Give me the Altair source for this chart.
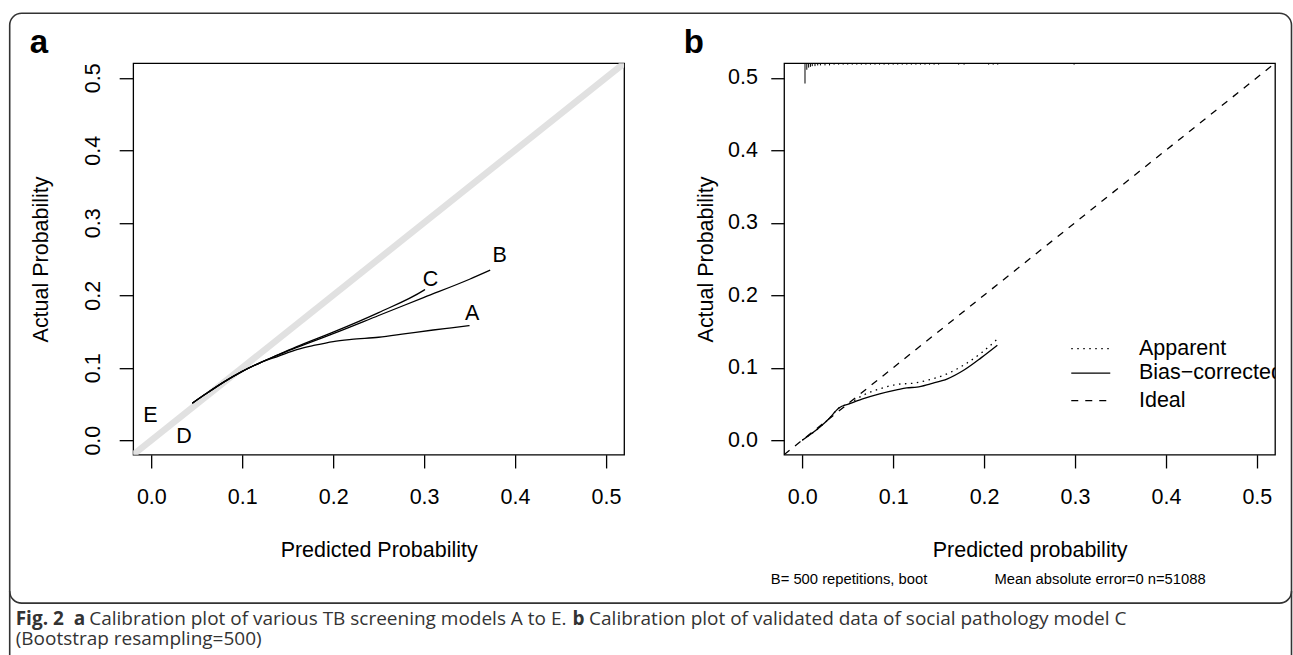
import altair as alt
import pandas as pd

FONT = "Liberation Sans"
CAPFONT = "Open Sans"

# ---------------- data ----------------
tick_vals = [0.0, 0.1, 0.2, 0.3, 0.4, 0.5]
domain = [-0.02, 0.52]

# Panel a: calibration curves of models A, B, C
a_x = [0.045, 0.06, 0.08, 0.10, 0.12, 0.14, 0.16, 0.18, 0.20, 0.22, 0.25, 0.28, 0.31, 0.33, 0.35]
a_y = [0.051, 0.064, 0.0805, 0.095, 0.107, 0.116, 0.125, 0.131, 0.136, 0.139, 0.142, 0.147, 0.152, 0.155, 0.158]
b_x = [0.045, 0.06, 0.08, 0.10, 0.12, 0.14, 0.16, 0.20, 0.25, 0.30, 0.35, 0.3727]
b_y = [0.051, 0.064, 0.0805, 0.095, 0.107, 0.118, 0.128, 0.147, 0.172, 0.197, 0.222, 0.2345]
c_x = [0.045, 0.06, 0.08, 0.10, 0.12, 0.14, 0.16, 0.20, 0.25, 0.30, 0.301]
c_y = [0.051, 0.064, 0.0805, 0.095, 0.107, 0.118, 0.129, 0.149, 0.176, 0.207, 0.2078]
ideal_pts = [-0.02, 0.52]

label_text = ["A", "B", "C", "D", "E"]
label_x = [0.353, 0.383, 0.307, 0.036, -0.001]
label_y = [0.174, 0.254, 0.221, 0.005, 0.033]

# Panel b: bootstrap calibration of model C
app_x = [0.0, 0.0198, 0.0291, 0.0403, 0.0515, 0.0664, 0.0851, 0.1037, 0.1224, 0.141, 0.1597, 0.1784, 0.197, 0.2146]
app_y = [0.0, 0.0185, 0.0292, 0.0444, 0.0505, 0.0616, 0.0708, 0.0769, 0.0787, 0.0838, 0.0917, 0.1042, 0.1204, 0.1394]
bc_x = [0.0, 0.0198, 0.0291, 0.0403, 0.0515, 0.0664, 0.0851, 0.1037, 0.1149, 0.1261, 0.141, 0.1597, 0.1784, 0.197, 0.2146]
bc_y = [0.0, 0.0185, 0.0292, 0.0444, 0.0500, 0.0569, 0.0639, 0.0694, 0.0722, 0.0731, 0.0778, 0.0847, 0.0972, 0.1139, 0.1310]

# distribution rug of predicted probabilities (top of panel b)
rug_x = [0.003, 0.005, 0.007, 0.009, 0.011, 0.014, 0.017, 0.020, 0.025, 0.030, 0.035, 0.040,
         0.045, 0.050, 0.055, 0.060, 0.065, 0.070, 0.075, 0.080, 0.085, 0.090, 0.095, 0.100,
         0.105, 0.110, 0.115, 0.120, 0.125, 0.130, 0.135, 0.140, 0.145, 0.150, 0.172, 0.178,
         0.205, 0.210, 0.215, 0.299]
rug_len = [0.028, 0.009, 0.006, 0.005, 0.004, 0.004, 0.003, 0.003, 0.003, 0.003, 0.002, 0.002,
           0.002, 0.002, 0.002, 0.002, 0.002, 0.002, 0.002, 0.002, 0.002, 0.002, 0.002, 0.002,
           0.002, 0.002, 0.002, 0.002, 0.002, 0.002, 0.002, 0.002, 0.002, 0.002, 0.002, 0.002,
           0.002, 0.002, 0.002, 0.002]

legend_names = ["Apparent", "Bias\u2212corrected", "Ideal"]

# ---------------- layout constants ----------------
W, H = 491, 391.5
LBL = 21.5

df_ideal = pd.DataFrame({"x": ideal_pts, "y": ideal_pts})
df_curves = pd.concat([
    pd.DataFrame({"x": a_x, "y": a_y, "m": "A"}),
    pd.DataFrame({"x": b_x, "y": b_y, "m": "B"}),
    pd.DataFrame({"x": c_x, "y": c_y, "m": "C"}),
])
df_labels = pd.DataFrame({"x": label_x, "y": label_y, "t": label_text})
df_app = pd.DataFrame({"x": app_x, "y": app_y})
df_bc = pd.DataFrame({"x": bc_x, "y": bc_y})
df_rug = pd.DataFrame({"x": rug_x, "y": [0.52] * len(rug_x),
                       "y2": [0.52 - v for v in rug_len]})
one = pd.DataFrame({"k": [0]})


def x_axis(title):
    return alt.Axis(values=tick_vals, format=".1f", domain=False, grid=False,
                    ticks=True, tickSize=13.3, tickColor="black", tickWidth=1.3,
                    labelFont=FONT, labelFontSize=LBL, labelColor="black",
                    labelPadding=36, labelBaseline="alphabetic", labelFlush=False,
                    title=title, titleFont=FONT, titleFontSize=LBL,
                    titleFontWeight="normal", titleColor="black",
                    titleBaseline="alphabetic", titleY=102, titleX=W / 2)


def y_axis_a(title):
    return alt.Axis(values=tick_vals, format=".1f", domain=False, grid=False,
                    ticks=True, tickSize=14, tickColor="black", tickWidth=1.3,
                    labelFont=FONT, labelFontSize=LBL, labelColor="black",
                    labelAngle=270, labelAlign="center", labelBaseline="alphabetic",
                    labelPadding=19.3, labelFlush=False,
                    title=title, titleFont=FONT, titleFontSize=LBL,
                    titleFontWeight="normal", titleColor="black", titleAngle=270,
                    titleAlign="center", titleBaseline="alphabetic",
                    titleX=-86, titleY=H / 2)


def y_axis_b(title):
    return alt.Axis(values=tick_vals, format=".1f", domain=False, grid=False,
                    ticks=True, tickSize=13.3, tickColor="black", tickWidth=1.3,
                    labelFont=FONT, labelFontSize=LBL, labelColor="black",
                    labelAlign="right", labelBaseline="middle",
                    labelPadding=13.3, labelFlush=False,
                    title=title, titleFont=FONT, titleFontSize=LBL,
                    titleFontWeight="normal", titleColor="black", titleAngle=270,
                    titleAlign="center", titleBaseline="alphabetic",
                    titleX=-71.5, titleY=H / 2)


sc = alt.Scale(domain=domain, nice=False, zero=False)
XA = alt.X("x:Q", scale=sc, axis=x_axis("Predicted Probability"))
YA = alt.Y("y:Q", scale=sc, axis=y_axis_a("Actual Probability"))
XB = alt.X("x:Q", scale=sc, axis=x_axis("Predicted probability"))
YB = alt.Y("y:Q", scale=sc, axis=y_axis_b("Actual Probability"))

# ---------------- panel a ----------------
ideal_a = alt.Chart(df_ideal).mark_line(color="#e1e1e1", strokeWidth=6.5,
                                        strokeCap="butt", clip=True).encode(x=XA, y=YA)
curves_a = alt.Chart(df_curves).mark_line(color="black", strokeWidth=1.3,
                                          interpolate="monotone").encode(
    x=XA, y=YA, detail="m:N", order="x:Q")
labels_a = alt.Chart(df_labels).mark_text(font=FONT, fontSize=LBL, color="black",
                                          align="center", baseline="middle").encode(
    x=XA, y=YA, text="t:N")

frame = alt.Chart(one).mark_rect(fill="transparent", stroke="#333333", strokeWidth=1.6,
                                 cornerRadius=12).encode(
    x=alt.value(-123.5), x2=alt.value(1158.5), y=alt.value(-50), y2=alt.value(540))
side_l = alt.Chart(one).mark_rule(color="#333333", strokeWidth=1.6).encode(
    x=alt.value(-123.5), y=alt.value(528), y2=alt.value(593))
side_r = alt.Chart(one).mark_rule(color="#333333", strokeWidth=1.6).encode(
    x=alt.value(1158.5), y=alt.value(528), y2=alt.value(593))

tag_a = alt.Chart(one).mark_text(text="a", font=FONT, fontSize=33, fontWeight="bold",
                                 color="black", align="left", baseline="alphabetic").encode(
    x=alt.value(-103.5), y=alt.value(-10))

CAP = 19
cap_parts = [
    ("Fig. 2", "bold", -117.5, 562),
    ("a", "bold", -59.5, 562),
    ("Calibration plot of various TB screening models A to E.", "normal", -44.0, 562),
    ("b", "bold", 439.5, 562),
    ("Calibration plot of validated data of social pathology model C", "normal", 456.0, 562),
    ("(Bootstrap resampling=500)", "normal", -117.5, 582),
]
cap_layers = [
    alt.Chart(one).mark_text(text=t, font=CAPFONT, fontSize=CAP, fontWeight=fw,
                             color="#333333", align="left", baseline="alphabetic").encode(
        x=alt.value(px), y=alt.value(py))
    for (t, fw, px, py) in cap_parts
]

panel_a = alt.layer(ideal_a, curves_a, labels_a, frame, side_l, side_r, tag_a,
                    *cap_layers).properties(width=W, height=H)

# ---------------- panel b ----------------
ideal_b = alt.Chart(df_ideal).mark_line(color="black", strokeWidth=1.3,
                                        strokeDash=[7, 7], clip=True).encode(x=XB, y=YB)
app_b = alt.Chart(df_app).mark_line(color="black", strokeWidth=1.3, strokeDash=[1.5, 4.5],
                                    interpolate="monotone").encode(x=XB, y=YB, order="x:Q")
bc_b = alt.Chart(df_bc).mark_line(color="black", strokeWidth=1.3,
                                  interpolate="monotone").encode(x=XB, y=YB, order="x:Q")
rug_b = alt.Chart(df_rug).mark_rule(color="black", strokeWidth=1).encode(
    x=XB, y=YB, y2="y2:Q")

leg_y = [0.1264, 0.0926, 0.0546]
leg_dash = [[1.5, 4.5], [1, 0], [7, 7]]
leg_line_x = (0.2959, 0.3388)
leg_text_x = 0.3704

leg_layers = []
for name, ly, dash in zip(legend_names, leg_y, leg_dash):
    d = pd.DataFrame({"x": [leg_line_x[0]], "x2": [leg_line_x[1]], "y": [ly], "t": [name]})
    leg_layers.append(alt.Chart(d).mark_rule(color="black", strokeWidth=1.3,
                                             strokeDash=dash).encode(x=XB, x2="x2:Q", y=YB))
    dt = pd.DataFrame({"x": [leg_text_x], "y": [ly], "t": [name]})
    leg_layers.append(alt.Chart(dt).mark_text(
        font=FONT, fontSize=LBL, color="black", align="left", baseline="middle",
        clip=True).encode(x=XB, y=YB, text="t:N"))

tag_b = alt.Chart(one).mark_text(text="b", font=FONT, fontSize=33, fontWeight="bold",
                                 color="black", align="left", baseline="alphabetic").encode(
    x=alt.value(-100.3), y=alt.value(-10))
foot1 = alt.Chart(one).mark_text(text="B= 500 repetitions, boot", font=FONT, fontSize=14.8,
                                 color="black", align="left", baseline="alphabetic").encode(
    x=alt.value(-13.3), y=alt.value(521))
foot2 = alt.Chart(one).mark_text(text="Mean absolute error=0 n=51088", font=FONT,
                                 fontSize=14.8, color="black", align="right",
                                 baseline="alphabetic").encode(
    x=alt.value(421.7), y=alt.value(521))

panel_b = alt.layer(ideal_b, app_b, bc_b, rug_b, *leg_layers, tag_b, foot1,
                    foot2).properties(width=W, height=H)

chart = alt.hconcat(panel_a, panel_b, spacing=160, bounds="flush").configure_view(
    stroke="black", strokeWidth=1.3
).properties(padding={"left": 8.2, "top": 11.2, "right": 0, "bottom": 0},
             background="white")

chart.save("out.html", embed_options={"renderer": "svg", "actions": False})
